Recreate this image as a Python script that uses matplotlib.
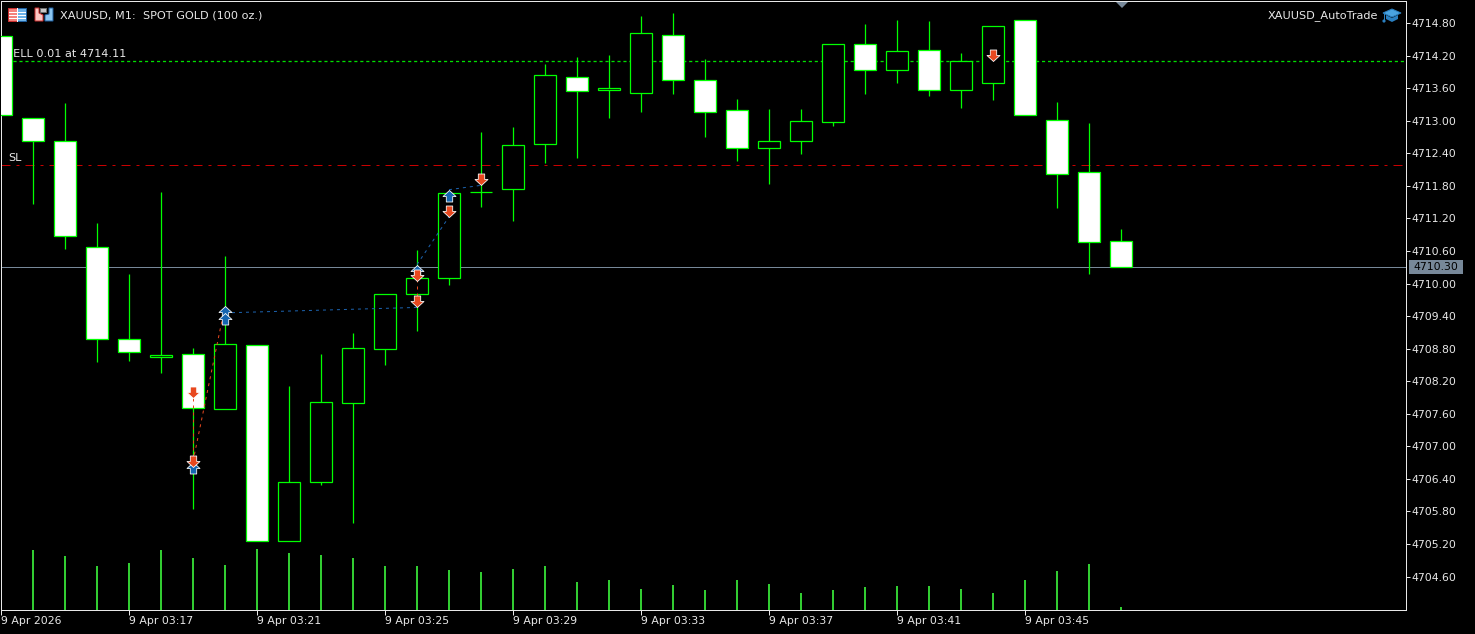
import matplotlib
matplotlib.use('Agg')
import matplotlib.pyplot as plt
from matplotlib.patches import Rectangle, Polygon, Circle
from matplotlib.path import Path

# candles, index 0 is cut by the left edge
opens = [4714.57, 4713.06, 4712.62, 4710.68, 4708.97, 4708.65, 4708.71, 4707.68, 4708.87, 4705.26,
         4706.35, 4707.80, 4708.80, 4709.81, 4710.11, 4711.68, 4711.75, 4712.58, 4713.81, 4713.56,
         4713.52, 4714.59, 4713.76, 4713.19, 4712.49, 4712.62, 4712.97, 4714.42, 4713.94, 4714.31,
         4713.56, 4713.70, 4714.85, 4713.02, 4712.05, 4710.79]
highs = [4714.57, 4713.06, 4713.33, 4711.12, 4710.17, 4711.69, 4708.82, 4710.50, 4708.87, 4708.12,
         4708.71, 4709.08, 4709.81, 4710.61, 4711.66, 4712.80, 4712.89, 4714.05, 4714.18, 4714.22,
         4714.94, 4714.98, 4714.13, 4713.41, 4713.22, 4713.21, 4714.42, 4714.79, 4714.85, 4714.83,
         4714.24, 4714.75, 4714.85, 4713.35, 4712.95, 4711.01]
lows = [4713.10, 4711.47, 4710.64, 4708.56, 4708.58, 4708.36, 4705.85, 4707.68, 4705.26, 4705.26,
        4706.28, 4705.59, 4708.49, 4709.13, 4709.98, 4711.42, 4711.16, 4712.23, 4712.32, 4713.06,
        4713.17, 4713.50, 4712.71, 4712.25, 4711.84, 4712.38, 4712.91, 4713.50, 4713.69, 4713.45,
        4713.24, 4713.39, 4713.11, 4711.40, 4710.17, 4710.31]
closes = [4713.10, 4712.62, 4710.88, 4708.97, 4708.73, 4708.69, 4707.70, 4708.89, 4705.26, 4706.35,
          4707.82, 4708.82, 4709.81, 4710.11, 4711.66, 4711.68, 4712.56, 4713.85, 4713.54, 4713.61,
          4714.61, 4713.76, 4713.17, 4712.49, 4712.63, 4713.00, 4714.42, 4713.94, 4714.29, 4713.57,
          4714.11, 4714.75, 4713.11, 4712.01, 4710.77, 4710.31]
# tick volume, starts at candle 1
volumes = [60, 54, 44, 47, 60, 52, 45, 61, 57, 55, 52, 44, 44, 40, 38, 41, 44, 28, 30, 21,
           25, 20, 30, 26, 17, 20, 23, 24, 24, 21, 17, 30, 39, 46, 3]

# trade arrows, (candle, price at arrow tip)
sell_arrows = [(6, 4707.90), (6, 4706.61), (13, 4710.04), (13, 4709.56), (14, 4711.23), (15, 4711.81), (31, 4714.11)]
buy_arrows = [(6, 4706.72), (7, 4709.59), (7, 4709.46), (13, 4710.35), (14, 4711.73)]
red_links = [((6, 4707.90), (6, 4706.61)), ((6, 4706.72), (7, 4709.59)), ((13, 4710.35), (13, 4709.56))]
blue_links = [((7, 4709.46), (13, 4709.56)), ((13, 4710.35), (14, 4711.23)), ((14, 4711.73), (15, 4711.81))]

sell_price = 4714.11
sl_price = 4712.18
last_price = 4710.30
price_ticks = [4714.80, 4714.20, 4713.60, 4713.00, 4712.40, 4711.80, 4711.20, 4710.60, 4710.00,
               4709.40, 4708.80, 4708.20, 4707.60, 4707.00, 4706.40, 4705.80, 4705.20, 4704.60]
time_ticks = [0, 4, 8, 12, 16, 20, 24, 28, 32]
time_labels = ['9 Apr 2026', '9 Apr 03:17', '9 Apr 03:21', '9 Apr 03:25', '9 Apr 03:29',
               '9 Apr 03:33', '9 Apr 03:37', '9 Apr 03:41', '9 Apr 03:45']

W, H = 1475, 634
PX = 0.72  # one pixel in points at dpi 100
GREEN = '#00ff00'
AXC = '#e8e8e8'
FS = 7.85
FS_HEAD = 8.1

plt.rcParams['font.family'] = ['DejaVu Sans']
fig = plt.figure(figsize=(W / 100, H / 100), dpi=100, facecolor='black')

ax = fig.add_axes([1 / W, 1 - 610 / H, 1405 / W, 609 / H], facecolor='black')
ax.set_xlim(0, 1405 / 32)
ax.set_ylim(4715.226 - 0.01843 * 610, 4715.226 - 0.01843 * 1)

# volume in its own scale, under everything else
vol = ax.twinx()
vol.set_ylim(0, 609)
vol.set_zorder(0)
vol.axis('off')
vol.vlines(range(1, len(volumes) + 1), 0, volumes, color='#32cd32', lw=2 * PX, snap=True)
ax.set_zorder(1)
ax.patch.set_visible(False)
vol.patch.set_visible(True)
vol.patch.set_facecolor('black')

# level lines
ax.axhline(sell_price, color='#00e000', lw=1.3 * PX, ls=(0, (2.4, 2.2)), zorder=1)
ax.axhline(sl_price, color='#c80000', lw=PX, ls=(0, (9, 6, 3, 6)), zorder=1)
ax.axhline(last_price, color='#778899', lw=PX, zorder=1)
ax.text(0.15, sell_price + 0.035, 'SELL 0.01 at 4714.11', color=AXC, fontsize=FS_HEAD, va='bottom', ha='left', zorder=1.5)
ax.text(0.22, sl_price + 0.035, 'SL', color=AXC, fontsize=FS_HEAD, va='bottom', ha='left', zorder=1.5)

# candles
xs = list(range(len(opens)))
ax.vlines(xs, lows, highs, color=GREEN, lw=1.25 * PX, zorder=2, snap=True)
for i in xs:
    bear = closes[i] < opens[i]
    low_body = min(opens[i], closes[i])
    ax.add_patch(Rectangle((i - 0.34, low_body), 0.68, abs(opens[i] - closes[i]),
                           facecolor='white' if bear else 'black', edgecolor=GREEN,
                           lw=1.25 * PX, zorder=3, snap=True))

# trade links
for (a, b) in red_links:
    ax.plot([a[0], b[0]], [a[1], b[1]], color='#e8481f', lw=PX, ls=(0, (3, 4)), zorder=4)
for (a, b) in blue_links:
    ax.plot([a[0], b[0]], [a[1], b[1]], color='#1c62ad', lw=PX, ls=(0, (3, 4)), zorder=4)

# arrow markers, tip sits on the price
down_verts = [(0, 0), (6.5, 6), (3.2, 6), (3.2, 11.5), (-3.2, 11.5), (-3.2, 6), (-6.5, 6), (0, 0)]
up_verts = [(x, -y) for x, y in down_verts]
down_path = Path(down_verts, closed=True)
up_path = Path(up_verts, closed=True)
ax.plot([a[0] for a in buy_arrows], [a[1] for a in buy_arrows], ls='', marker=up_path, ms=23 * PX,
        mfc='#1565b0', mec='white', mew=0.8 * PX, zorder=5)
ax.plot([a[0] for a in sell_arrows], [a[1] for a in sell_arrows], ls='', marker=down_path, ms=23 * PX,
        mfc='#e8481f', mec='white', mew=0.8 * PX, zorder=6)

# axes frame and labels
for s in ['top', 'left', 'right', 'bottom']:
    ax.spines[s].set_color(AXC)
    ax.spines[s].set_linewidth(PX)
ax.yaxis.tick_right()
ax.set_yticks(price_ticks)
ax.set_yticklabels(['%.2f' % p for p in price_ticks], color=AXC, fontsize=FS)
ax.tick_params(axis='y', length=4 * PX, width=PX, color=AXC, pad=1)
ax.set_xticks(time_ticks)
ax.set_xticklabels(time_labels, color=AXC, fontsize=FS, ha='left')
ax.tick_params(axis='x', length=5 * PX, width=PX, color=AXC, pad=1)

# overlay in pixels for header and icons
top = fig.add_axes([0, 0, 1, 1], facecolor='none')
top.set_xlim(0, W)
top.set_ylim(H, 0)
top.axis('off')
top.text(60, 15.5, 'XAUUSD, M1:  SPOT GOLD (100 oz.)', color=AXC, fontsize=FS_HEAD, va='center', ha='left')
top.text(1378, 15.5, 'XAUUSD_AutoTrade', color=AXC, fontsize=FS_HEAD, va='center', ha='right')

# current price tag
top.add_patch(Rectangle((1409, 260), 54, 14, facecolor='#778899', edgecolor='none'))
top.text(1436, 267.3, '4710.30', color='black', fontsize=FS, va='center', ha='center')

# scroll marker
top.add_patch(Polygon([(1116, 2), (1128, 2), (1122, 8)], facecolor='#778899', edgecolor='none'))

# left icons
top.add_patch(Rectangle((8, 8), 9, 13, facecolor='#f4827c', edgecolor='#c83030', lw=PX))
top.add_patch(Rectangle((17, 8), 9, 13, facecolor='#6db3e8', edgecolor='#1f5f9f', lw=PX))
for yy in (12, 15, 18):
    top.plot([9, 25], [yy, yy], color='white', lw=PX)
top.plot([17, 17], [8, 21], color='white', lw=PX)
top.add_patch(Polygon([(35, 8), (39, 8), (39, 13), (43, 15), (43, 21), (35, 21)],
                      facecolor='#fbc8c4', edgecolor='#c83030', lw=PX))
top.add_patch(Polygon([(53, 8), (49, 8), (49, 14), (45, 15), (45, 21), (53, 21)],
                      facecolor='#8cc6f0', edgecolor='#1f5f9f', lw=PX))
top.add_patch(Rectangle((40, 8), 6, 4, facecolor='#c8c8c8', edgecolor='#707070', lw=PX))

# cap icon
top.add_patch(Polygon([(1392, 9), (1401, 13), (1392, 17), (1383, 13)], facecolor='#4aa3e0', edgecolor='#2a7fc0', lw=PX))
top.add_patch(Polygon([(1386, 15), (1392, 18), (1398, 15), (1398, 19), (1392, 22), (1386, 19)],
                      facecolor='#2a7fc0', edgecolor='none'))
top.plot([1384, 1384], [13, 20], color='#2a7fc0', lw=PX)
top.add_patch(Circle((1384, 21), 1.6, facecolor='#2a7fc0', edgecolor='none'))

fig.savefig('out.png', dpi=100, facecolor='black')
